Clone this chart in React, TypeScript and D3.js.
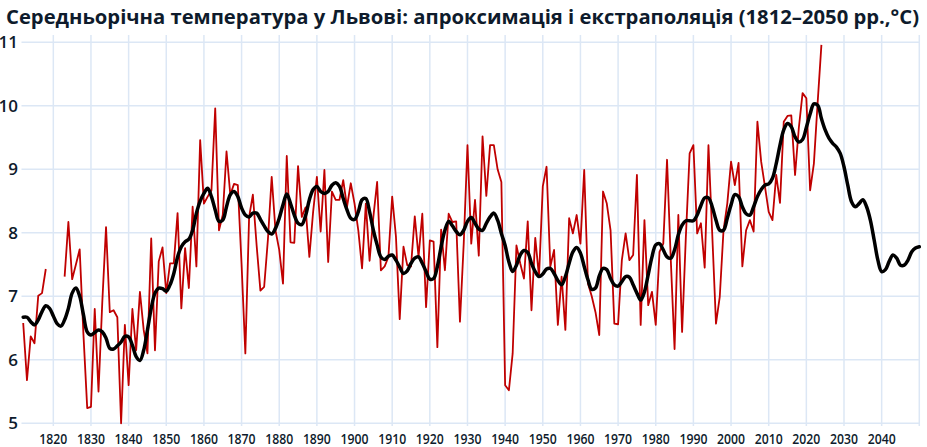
import React from "react";
import * as d3 from "d3";

const title = "Середньорічна температура у Львові: апроксимація і екстраполяція (1812–2050 рр.,°C)";
const yTicks = [5, 6, 7, 8, 9, 10, 11];
const xTicks = [1820, 1830, 1840, 1850, 1860, 1870, 1880, 1890, 1900, 1910, 1920, 1930, 1940, 1950, 1960, 1970, 1980, 1990, 2000, 2010, 2020, 2030, 2040];
const gridYears = [1820, 1830, 1840, 1850, 1860, 1870, 1880, 1890, 1900, 1910, 1920, 1930, 1940, 1950, 1960, 1970, 1980, 1990, 2000, 2010, 2020, 2030, 2040, 2050];

const annualStart = 1812;
const annual: (number | null)[] = [
  6.58, 5.68, 6.37, 6.26, 7.01, 7.05, 7.43, null, null, null, null, 7.31, 8.17, 7.27, 7.5, 7.74, 6.4, 5.24,
  5.26, 6.8, 5.5, 6.9, 8.09, 6.75, 6.78, 6.67, 5.0, 6.55,
  5.6, 6.8, 6.15, 7.07, 6.47, 6.1, 7.91, 6.15, 7.55, 7.77,
  7.05, 7.52, 7.52, 8.31, 6.81, 7.76, 7.13, 8.41, 7.47, 9.46,
  8.46, 8.57, 8.67, 9.96, 8.04, 8.28, 9.28, 8.6, 8.77, 8.75,
  7.5, 6.1, 8.25, 8.6, 7.8, 7.09, 7.15, 7.9, 8.88, 8.04,
  7.73, 7.2, 9.21, 7.85, 7.84, 9.05, 8.25, 8.4, 7.62, 8.33,
  8.88, 8.02, 8.99, 7.54, 8.65, 8.52, 8.52, 8.83, 8.41, 8.78,
  8.46, 8.04, 7.44, 8.46, 7.56, 8.25, 8.8, 7.41, 7.47, 7.62,
  8.57, 7.94, 6.64, 7.78, 7.49, 7.47, 8.26, 7.62, 8.3, 6.83,
  7.88, 7.86, 6.2, 8.05, 7.41, 8.3, 8.17, 8.18, 6.6, 7.83,
  9.38, 7.83, 8.52, 7.64, 9.52, 8.58, 9.38, 9.38, 9.0, 8.8,
  5.6, 5.52, 6.1, 7.8, 7.52, 7.28, 8.18, 6.78, 7.92, 7.31,
  8.73, 9.04, 7.47, 7.73, 6.55, 7.31, 6.47, 8.23, 7.99, 8.28,
  7.83, 8.99, 7.2, 7.0, 6.75, 6.39, 8.65, 8.46, 8.04, 6.57,
  6.56, 7.57, 7.99, 7.57, 7.65, 8.91, 6.55, 8.2, 6.86, 7.07,
  6.55, 7.7, 7.83, 9.15, 7.57, 6.17, 8.28, 6.44, 7.94, 9.25,
  9.38, 7.99, 8.15, 7.45, 9.38, 7.99, 6.57, 6.99, 8.04, 8.46,
  9.12, 8.75, 9.1, 7.47, 8.04, 8.2, 8.02, 9.75, 9.12, 8.73,
  8.33, 8.2, 8.91, 8.47, 9.75, 9.84, 9.85, 8.91, 9.65, 10.2,
  10.12, 8.67, 9.09, 10.05, 10.96,
];

const smoothStart = 1812;
const smooth: number[] = [
  6.67, 6.67, 6.6, 6.55, 6.63, 6.76, 6.85, 6.81,
  6.69, 6.57, 6.53, 6.63, 6.81, 7.05, 7.13, 7.0, 6.71, 6.44,
  6.39, 6.43, 6.47, 6.44, 6.34, 6.18, 6.17, 6.22, 6.28, 6.37,
  6.36, 6.23, 6.05, 5.99, 6.15, 6.47, 6.81, 7.05, 7.13, 7.12,
  7.08, 7.18, 7.36, 7.62, 7.78, 7.86, 7.9, 8.04, 8.31, 8.5,
  8.62, 8.7, 8.57, 8.36, 8.18, 8.2, 8.41, 8.6, 8.65, 8.57,
  8.39, 8.28, 8.25, 8.31, 8.31, 8.21, 8.11, 8.02, 7.98, 8.07,
  8.23, 8.44, 8.61, 8.46, 8.28, 8.15, 8.13, 8.27, 8.52, 8.68,
  8.73, 8.65, 8.62, 8.65, 8.75, 8.79, 8.73, 8.54, 8.36, 8.23,
  8.21, 8.33, 8.52, 8.54, 8.33, 8.04, 7.81, 7.62, 7.58, 7.63,
  7.65, 7.57, 7.46, 7.36, 7.4, 7.52, 7.6, 7.62, 7.52, 7.39,
  7.27, 7.28, 7.47, 7.78, 8.04, 8.18, 8.11, 8.02, 7.97, 8.04,
  8.18, 8.24, 8.15, 8.06, 8.04, 8.15, 8.25, 8.31, 8.2, 7.99,
  7.8, 7.54, 7.39, 7.49, 7.65, 7.72, 7.69, 7.52, 7.39, 7.31,
  7.35, 7.43, 7.44, 7.36, 7.25, 7.18, 7.31, 7.52, 7.7, 7.77,
  7.68, 7.47, 7.26, 7.11, 7.13, 7.32, 7.44, 7.42, 7.28, 7.18,
  7.16, 7.23, 7.31, 7.3, 7.18, 7.05, 6.94, 7.07, 7.34, 7.62,
  7.81, 7.83, 7.73, 7.62, 7.6, 7.73, 7.97, 8.12, 8.19, 8.19,
  8.19, 8.28, 8.43, 8.55, 8.55, 8.41, 8.2, 8.04, 8.04, 8.23,
  8.44, 8.6, 8.57, 8.41, 8.3, 8.28, 8.41, 8.57, 8.68, 8.75,
  8.77, 8.86, 9.09, 9.38, 9.62, 9.72, 9.67, 9.51, 9.43, 9.47,
  9.66, 9.87, 10.03, 10.01, 9.8, 9.62, 9.49, 9.41, 9.35, 9.25,
  9.04, 8.75, 8.49, 8.41, 8.46, 8.52, 8.41, 8.2, 7.89, 7.57,
  7.39, 7.42, 7.55, 7.65, 7.6, 7.49, 7.49, 7.57, 7.7, 7.76,
  7.78,
];

const W = 927;
const H = 447;
const textColor = "#0e1b2c";
const gridColor = "#dce7f5";
const font = "'Open Sans', 'Noto Sans', sans-serif";

export default function App() {
  const x = d3.scaleLinear().domain([1812, 2050]).range([23.2, 919.3]);
  const y = d3.scaleLinear().domain([5, 11]).range([423.3, 42.3]);

  const annualPts = annual.map((v, i) => ({ year: annualStart + i, v }));
  const smoothPts = smooth.map((v, i) => ({ year: smoothStart + i, v }));

  const redLine = d3
    .line<{ year: number; v: number | null }>()
    .defined((d) => d.v !== null)
    .x((d) => x(d.year))
    .y((d) => y(d.v as number));

  const blackLine = d3
    .line<{ year: number; v: number }>()
    .x((d) => x(d.year))
    .y((d) => y(d.v))
    .curve(d3.curveCatmullRom.alpha(0.5));

  return (
    <svg
      width={W}
      height={H}
      style={{ position: "absolute", left: 0, top: 0, display: "block", background: "#fff" }}
    >
      <text
        x={6}
        y={23.5}
        fontFamily={font}
        fontWeight={700}
        fontSize={20}
        fill={textColor}
        textLength={913}
        lengthAdjust="spacingAndGlyphs"
      >
        {title}
      </text>
      {gridYears.map((yr) => (
        <line key={"v" + yr} x1={x(yr)} x2={x(yr)} y1={35} y2={426} stroke={gridColor} strokeWidth={1.5} />
      ))}
      {yTicks.map((t) => (
        <line key={"h" + t} x1={21.5} x2={920} y1={y(t)} y2={y(t)} stroke={gridColor} strokeWidth={1.5} />
      ))}
      {yTicks.map((t) => (
        <text
          key={"yl" + t}
          x={18}
          y={y(t) + 6}
          textAnchor="end"
          fontFamily={font}
          fontWeight={600}
          fontSize={17}
          fill={textColor}
        >
          {t}
        </text>
      ))}
      {xTicks.map((t) => (
        <text
          key={"xl" + t}
          x={x(t)}
          y={444}
          textAnchor="middle"
          fontFamily={font}
          fontWeight={600}
          fontSize={14}
          fill={textColor}
          textLength={28}
          lengthAdjust="spacingAndGlyphs"
        >
          {t}
        </text>
      ))}
      <path d={redLine(annualPts) || ""} fill="none" stroke="#c00000" strokeWidth={1.8} strokeLinejoin="round" />
      <path d={blackLine(smoothPts) || ""} fill="none" stroke="#000" strokeWidth={3.5} strokeLinejoin="round" strokeLinecap="round" />
    </svg>
  );
}
